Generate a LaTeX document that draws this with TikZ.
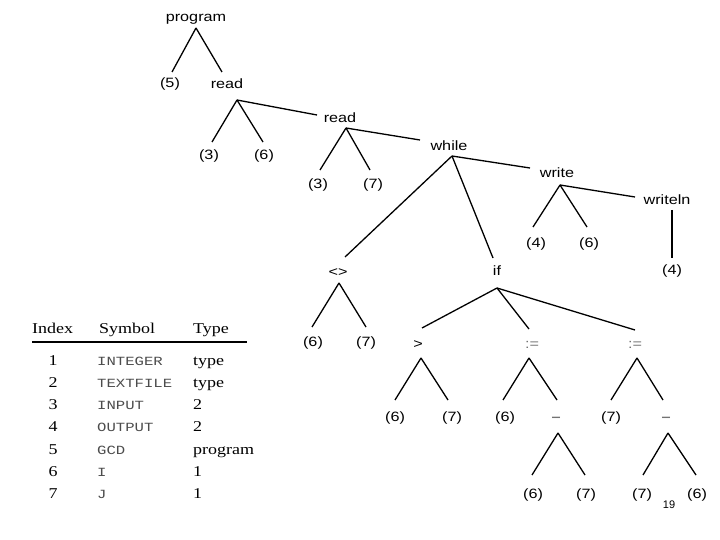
\documentclass[tikz,border=0pt]{standalone}
\usepackage{fontspec}
\setmainfont{Liberation Sans}
\newfontfamily\treefont[FakeStretch=1.2]{Liberation Sans}
\newfontfamily\tabserif[FakeStretch=1.2]{Liberation Serif}
\newfontfamily\tabmono[FakeStretch=1.25]{Liberation Mono}
\begin{document}
\begin{tikzpicture}[x=1pt,y=-1pt,
  lbl/.style={inner sep=0pt, font=\treefont\fontsize{13.5}{14}\selectfont},
  op/.style={lbl, text=black!55},
  edge/.style={line width=1.3pt, black},
  th/.style={inner sep=0pt, anchor=base west, font=\tabserif\fontsize{15}{16}\selectfont},
  tn/.style={inner sep=0pt, anchor=base, font=\tabserif\fontsize{15}{16}\selectfont},
  ts/.style={inner sep=0pt, anchor=base west, text=black!70, font=\tabmono\fontsize{12.5}{14}\selectfont},
  tt/.style={inner sep=0pt, anchor=base west, font=\tabserif\fontsize{15}{16}\selectfont}]
\useasboundingbox (0,0) rectangle (720,540);

% ---------- tree nodes ----------
\node[lbl] (program) at (196,19) {program};
\node[lbl] (n5) at (170,84) {(5)};
\node[lbl] (read1) at (227,84) {read};
\node[lbl] (n3a) at (209,156) {(3)};
\node[lbl] (n6a) at (264,156) {(6)};
\node[lbl] (read2) at (340,118) {read};
\node[lbl] (n3b) at (318,185) {(3)};
\node[lbl] (n7b) at (373,185) {(7)};
\node[lbl] (while) at (449,146) {while};
\node[lbl] (write) at (557,173) {write};
\node[lbl] (n4c) at (536,244) {(4)};
\node[lbl] (n6c) at (589,244) {(6)};
\node[lbl] (writeln) at (667,200) {writeln};
\node[lbl] (n4d) at (672,271) {(4)};
\node[lbl] (neq) at (338,273) {<>};
\node[lbl] (n6e) at (313,343) {(6)};
\node[lbl] (n7e) at (366,343) {(7)};
\node[lbl] (if) at (497,271) {if};
\node[lbl] (gt) at (418,345) {>};
\node[lbl] (n6f) at (395,418) {(6)};
\node[lbl] (n7f) at (452,418) {(7)};
\node[op] (as1) at (532,345) {:=};
\node[lbl] (n6g) at (505,418) {(6)};
\node[op] (mi1) at (556,419) {\bfseries –};
\node[lbl] (n6h) at (533,495) {(6)};
\node[lbl] (n7h) at (586,495) {(7)};
\node[op] (as2) at (635,345) {:=};
\node[lbl] (n7i) at (611,418) {(7)};
\node[op] (mi2) at (666,419) {\bfseries –};
\node[lbl] (n7j) at (642,495) {(7)};
\node[lbl] (n6j) at (697,495) {(6)};
\node[inner sep=0pt, font=\fontsize{11}{12}\selectfont] (page) at (669,505) {19};

% ---------- connector end points ----------
\coordinate (aprog) at (196,28);
\coordinate (e5) at (172,72);
\coordinate (er1) at (222,72);
\coordinate (ar1) at (237,100);
\coordinate (e3a) at (212,142);
\coordinate (e6a) at (263,142);
\coordinate (er2) at (317,115);
\coordinate (ar2) at (346,128);
\coordinate (e3b) at (320,170);
\coordinate (e7b) at (370,170);
\coordinate (ew) at (420,140);
\coordinate (aw) at (452,156);
\coordinate (eneq) at (345,257);
\coordinate (eif) at (493,258);
\coordinate (ewr) at (530,168);
\coordinate (awr) at (560,185);
\coordinate (e4c) at (533,227);
\coordinate (e6c) at (587,227);
\coordinate (ewl) at (635,197);
\coordinate (awl) at (672,210);
\coordinate (e4d) at (672,258);
\coordinate (aneq) at (339,283);
\coordinate (e6e) at (312,327);
\coordinate (e7e) at (366,327);
\coordinate (aif) at (497,288);
\coordinate (egt) at (422,328);
\coordinate (eas1) at (529,329);
\coordinate (eas2) at (635,330);
\coordinate (agt) at (421,358);
\coordinate (e6f) at (395,400);
\coordinate (e7f) at (448,400);
\coordinate (aas1) at (529,358);
\coordinate (e6g) at (503,400);
\coordinate (emi1) at (557,400);
\coordinate (aas2) at (637,358);
\coordinate (e7i) at (611,400);
\coordinate (emi2) at (663,400);
\coordinate (ami1) at (558,433);
\coordinate (e6h) at (532,475);
\coordinate (e7h) at (585,475);
\coordinate (ami2) at (668,433);
\coordinate (e7j) at (643,475);
\coordinate (e6j) at (696,475);

% ---------- connectors ----------
\draw[edge] (aprog) -- (e5);
\draw[edge] (aprog) -- (er1);
\draw[edge] (ar1) -- (e3a);
\draw[edge] (ar1) -- (e6a);
\draw[edge] (ar1) -- (er2);
\draw[edge] (ar2) -- (e3b);
\draw[edge] (ar2) -- (e7b);
\draw[edge] (ar2) -- (ew);
\draw[edge] (aw) -- (eneq);
\draw[edge] (aw) -- (eif);
\draw[edge] (aw) -- (ewr);
\draw[edge] (awr) -- (e4c);
\draw[edge] (awr) -- (e6c);
\draw[edge] (awr) -- (ewl);
\draw[edge] (awl) -- (e4d);
\draw[edge] (aneq) -- (e6e);
\draw[edge] (aneq) -- (e7e);
\draw[edge] (aif) -- (egt);
\draw[edge] (aif) -- (eas1);
\draw[edge] (aif) -- (eas2);
\draw[edge] (agt) -- (e6f);
\draw[edge] (agt) -- (e7f);
\draw[edge] (aas1) -- (e6g);
\draw[edge] (aas1) -- (emi1);
\draw[edge] (aas2) -- (e7i);
\draw[edge] (aas2) -- (emi2);
\draw[edge] (ami1) -- (e6h);
\draw[edge] (ami1) -- (e7h);
\draw[edge] (ami2) -- (e7j);
\draw[edge] (ami2) -- (e6j);

% ---------- symbol table ----------
\node[th] (hidx) at (32,333) {Index};
\node[th] (hsym) at (99,333) {Symbol};
\node[th] (htyp) at (193,333) {Type};
\coordinate (rl) at (32,342);
\coordinate (rr) at (247,342);
\draw[line width=2pt] (rl) -- (rr);

\node[tn] (i1) at (53,365) {1};
\node[ts] (s1) at (97,365) {INTEGER};
\node[tt] (t1) at (193,365) {type};
\node[tn] (i2) at (53,387) {2};
\node[ts] (s2) at (97,387) {TEXTFILE};
\node[tt] (t2) at (193,387) {type};
\node[tn] (i3) at (53,409) {3};
\node[ts] (s3) at (97,409) {INPUT};
\node[tt] (t3) at (193,409) {2};
\node[tn] (i4) at (53,431) {4};
\node[ts] (s4) at (97,431) {OUTPUT};
\node[tt] (t4) at (193,431) {2};
\node[tn] (i5) at (53,454) {5};
\node[ts] (s5) at (97,454) {GCD};
\node[tt] (t5) at (193,454) {program};
\node[tn] (i6) at (53,476) {6};
\node[ts] (s6) at (97,476) {I};
\node[tt] (t6) at (193,476) {1};
\node[tn] (i7) at (53,498) {7};
\node[ts] (s7) at (97,498) {J};
\node[tt] (t7) at (193,498) {1};
\end{tikzpicture}
\end{document}
